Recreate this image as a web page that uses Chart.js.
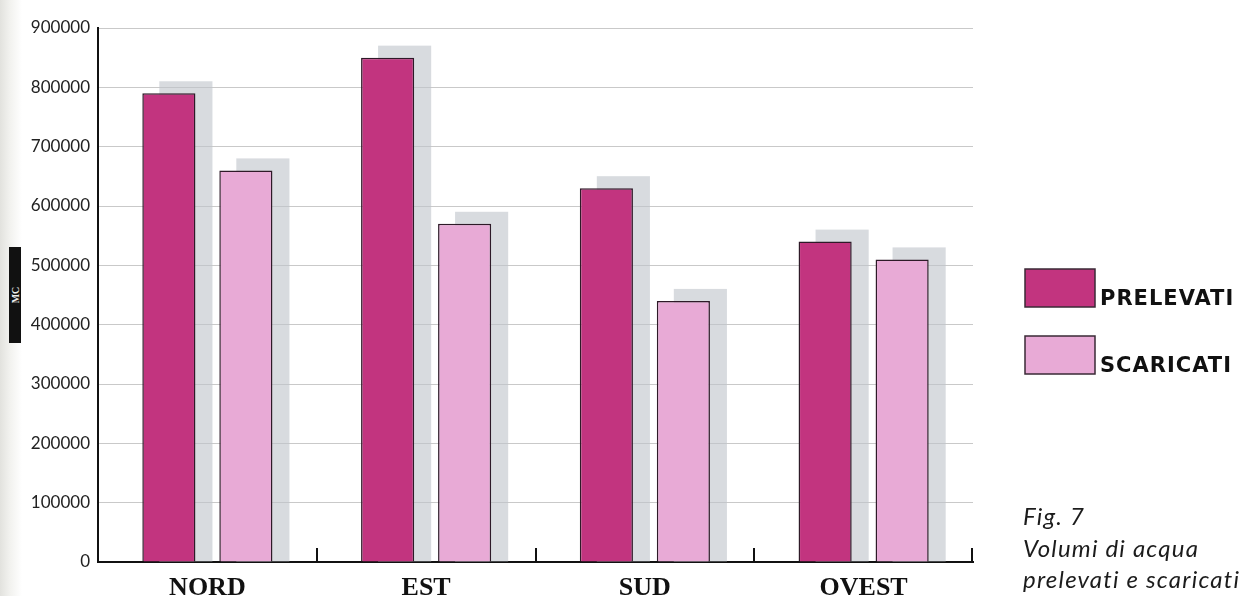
<!DOCTYPE html>
<html>
<head>
<meta charset="utf-8">
<script src="https://cdn.jsdelivr.net/npm/chart.js@4"></script>
<style>
  html, body { margin: 0; padding: 0; background: #fff; }
  #wrap { position: relative; width: 1239px; height: 596px; overflow: hidden;
          background: linear-gradient(to right, #e2e2de 0px, #f2f2ef 10px, #fff 22px); }
  #mc { position: absolute; left: 9px; top: 247px; width: 12px; height: 96px; background: #111; }
  #mc span { position: absolute; left: 50%; top: 50%; transform: translate(-50%, -50%) rotate(-90deg);
             color: #eee; font: bold 10px "Liberation Serif", serif; white-space: nowrap; }
  #caption { position: absolute; left: 1023px; top: 500px; font: italic 24px Lato, "Open Sans", sans-serif;
             letter-spacing: 1.2px; color: #1c1c1c; line-height: 31.5px; white-space: nowrap; }
</style>
</head>
<body>
<div id="wrap">
  <canvas id="chart" width="1239" height="596"></canvas>
  <div id="mc"><span>MC</span></div>
  <div id="caption">Fig. 7<br>Volumi di acqua<br>prelevati e scaricati</div>
</div>
<script>
const regions = ['NORD', 'EST', 'SUD', 'OVEST'];
const prelevati = [790000, 850000, 630000, 540000];
const scaricati = [660000, 570000, 440000, 510000];
const seriesNames = ['PRELEVATI', 'SCARICATI'];

// grey offset block behind every bar
const barShadow = {
    id: 'barShadow',
    beforeDatasetsDraw(chart) {
        const ctx = chart.ctx;
        ctx.save();
        ctx.fillStyle = 'rgba(192, 197, 203, 0.62)';
        chart.data.datasets.forEach((ds, i) => {
            chart.getDatasetMeta(i).data.forEach(bar => {
                const top = bar.y - 12;
                ctx.fillRect(bar.x - bar.width / 2 + 17, top, bar.width, bar.base - top);
            });
        });
        ctx.restore();
    }
};

// short upward ticks between the regions and at the right end of the axis
const axisTicks = {
    id: 'axisTicks',
    afterDatasetsDraw(chart) {
        const x = chart.scales.x;
        const area = chart.chartArea;
        const step = (area.right - area.left) / chart.data.labels.length;
        const ctx = chart.ctx;
        ctx.save();
        ctx.strokeStyle = '#111';
        ctx.lineWidth = 2;
        for (let i = 1; i <= chart.data.labels.length; i++) {
            const px = Math.round(x.getPixelForValue(i - 1) + step / 2) - (i === chart.data.labels.length ? 1 : 0);
            ctx.beginPath();
            ctx.moveTo(px, area.bottom);
            ctx.lineTo(px, area.bottom - 14);
            ctx.stroke();
        }
        ctx.restore();
    }
};

// legend boxes with the label sitting on the box bottom
const sideLegend = {
    id: 'sideLegend',
    afterDraw(chart) {
        const ctx = chart.ctx;
        ctx.save();
        chart.data.datasets.forEach((ds, i) => {
            const y = 269 + i * 67;
            ctx.fillStyle = ds.backgroundColor;
            ctx.fillRect(1025, y, 70, 38);
            ctx.strokeStyle = '#3a2a36';
            ctx.lineWidth = 1.5;
            ctx.strokeRect(1025, y, 70, 38);
            ctx.fillStyle = '#111';
            ctx.font = 'bold 21px "DejaVu Sans", sans-serif';
            ctx.letterSpacing = '1px';
            ctx.textBaseline = 'alphabetic';
            ctx.fillText(ds.label, 1100, y + 36);
        });
        ctx.restore();
    }
};

new Chart(document.getElementById('chart'), {
    type: 'bar',
    data: {
        labels: regions,
        datasets: [
            {
                label: seriesNames[0],
                data: prelevati,
                backgroundColor: '#c2347f',
                borderColor: '#2e1a28',
                borderWidth: 1.5
            },
            {
                label: seriesNames[1],
                data: scaricati,
                backgroundColor: '#e8aad6',
                borderColor: '#2e1a28',
                borderWidth: 1.5
            }
        ]
    },
    options: {
        responsive: false,
        animation: false,
        layout: { padding: { left: 0, right: 266, top: 28, bottom: 0 } },
        categoryPercentage: 0.704,
        barPercentage: 0.69,
        plugins: {
            legend: { display: false },
            tooltip: { enabled: false }
        },
        scales: {
            x: {
                afterFit: s => { s.height = 34; },
                grid: { display: false },
                border: { color: '#111', width: 2 },
                ticks: {
                    color: '#111',
                    padding: 5,
                    font: { family: '"Liberation Serif", serif', weight: 'bold', size: 26, lineHeight: 1 }
                }
            },
            y: {
                min: 0,
                max: 900000,
                afterFit: s => { s.width = 98; },
                border: { color: '#111', width: 2 },
                grid: { color: '#c9c9c9', lineWidth: 1, drawTicks: false },
                ticks: {
                    stepSize: 100000,
                    color: '#222',
                    padding: 8,
                    font: { family: 'Lato, "Open Sans", sans-serif', size: 17 },
                    callback: v => String(v)
                }
            }
        }
    },
    plugins: [barShadow, axisTicks, sideLegend]
});
</script>
</body>
</html>
